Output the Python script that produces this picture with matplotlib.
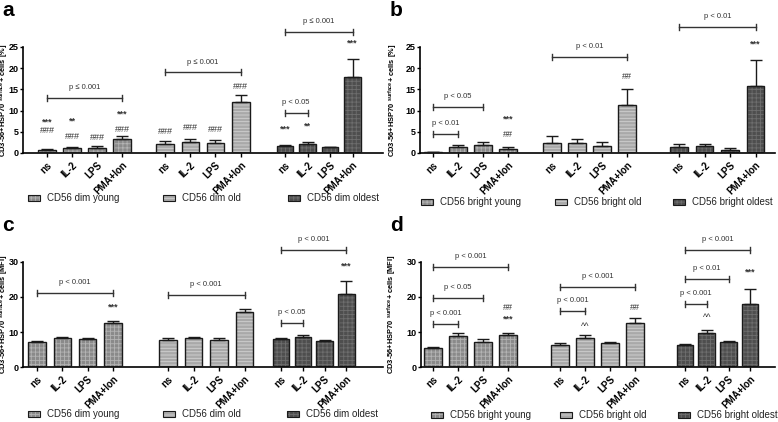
import numpy as np
import matplotlib
matplotlib.use("Agg")
import matplotlib.pyplot as plt
from matplotlib.patches import Rectangle

plt.rcParams['font.family'] = ['Liberation Sans', 'DejaVu Sans']
plt.rcParams['mathtext.fontset'] = 'custom'
plt.rcParams['mathtext.bf'] = 'Liberation Sans:bold'
plt.rcParams['mathtext.rm'] = 'Liberation Sans'
plt.rcParams['hatch.linewidth'] = 0.6

conditions = ['ns', 'IL-2', 'LPS', 'PMA+Ion']

# panel a: CD56 dim, % positive
a_mean = [[0.8, 1.1, 1.25, 3.2], [2.1, 2.7, 2.3, 11.95], [1.65, 2.1, 1.3, 18.0]]
a_err = [[0.2, 0.3, 0.35, 0.8], [0.65, 0.7, 0.7, 1.75], [0.3, 0.4, 0.2, 4.1]]
a_marks = [(0, 0, '###', 5.3), (0, 0, '***', 7.2), (0, 1, '###', 3.9), (0, 1, '**', 7.6),
           (0, 2, '###', 3.7), (0, 3, '###', 5.6), (0, 3, '***', 9.2),
           (1, 0, '###', 5.0), (1, 1, '###', 6.0), (1, 2, '###', 5.6), (1, 3, '###', 15.8),
           (2, 0, '***', 5.7), (2, 1, '**', 6.4), (2, 3, '***', 25.9)]
a_brackets = [(0, 0, 3, 12.9, 'p ≤ 0.001'), (1, 0, 3, 19.0, 'p ≤ 0.001'),
              (2, 0, 1, 9.4, 'p < 0.05'), (2, 0, 3, 28.5, 'p ≤ 0.001')]

# panel b: CD56 bright, % positive
b_mean = [[0.2, 1.4, 1.9, 0.9], [2.4, 2.3, 1.7, 11.3], [1.4, 1.6, 0.8, 15.7]]
b_err = [[0.1, 0.5, 0.8, 0.5], [1.7, 0.9, 1.0, 3.9], [0.65, 0.6, 0.3, 6.3]]
b_marks = [(0, 3, '##', 4.3), (0, 3, '***', 8.0), (1, 3, '##', 18.0), (2, 3, '***', 25.6)]
b_brackets = [(0, 0, 1, 4.4, 'p < 0.01'), (0, 0, 2, 10.8, 'p < 0.05'),
              (1, 0, 3, 22.7, 'p < 0.01'), (2, 0, 3, 29.8, 'p < 0.01')]

# panel c: CD56 dim, MFI
c_mean = [[7.1, 8.2, 7.9, 12.7], [7.8, 8.2, 7.8, 15.6], [7.9, 8.7, 7.5, 20.8]]
c_err = [[0.4, 0.4, 0.4, 0.5], [0.4, 0.5, 0.5, 0.9], [0.3, 0.4, 0.3, 3.8]]
c_marks = [(0, 3, '***', 17.0), (2, 3, '***', 28.8)]
c_brackets = [(0, 0, 3, 21.0, 'p < 0.001'), (1, 0, 3, 20.5, 'p < 0.001'),
              (2, 0, 1, 12.5, 'p < 0.05'), (2, 0, 3, 33.3, 'p < 0.001')]

# panel d: CD56 bright, MFI
d_mean = [[5.4, 8.9, 7.3, 9.3], [6.2, 8.4, 6.9, 12.7], [6.2, 9.7, 7.3, 18.1]]
d_err = [[0.3, 0.8, 0.6, 0.5], [0.7, 0.8, 0.4, 1.3], [0.3, 0.8, 0.3, 4.2]]
d_marks = [(0, 3, '***', 13.8), (0, 3, '##', 16.9), (1, 1, '^^', 11.7),
           (1, 3, '##', 17.1), (2, 1, '^^', 14.1), (2, 3, '***', 27.0)]
d_brackets = [(0, 0, 1, 12.2, 'p < 0.001'), (0, 0, 2, 19.8, 'p < 0.05'),
              (0, 0, 3, 28.6, 'p < 0.001'), (1, 0, 1, 15.9, 'p < 0.001'),
              (1, 0, 3, 22.9, 'p < 0.001'), (2, 0, 1, 18.1, 'p < 0.001'),
              (2, 0, 2, 25.2, 'p < 0.01'), (2, 0, 3, 33.3, 'p < 0.001')]

dim_groups = ['CD56 dim young', 'CD56 dim old', 'CD56 dim oldest']
bright_groups = ['CD56 bright young', 'CD56 bright old', 'CD56 bright oldest']

# bar styles per group: face, hatch colour, hatch
styles = [('#8a8a8a', '#b4b4b4', '++++'),
          ('#a9a9a9', '#d2d2d2', '-----'),
          ('#4e4e4e', '#6e6e6e', '++++')]

W, H = 778, 422
fig = plt.figure(figsize=(W / 100, H / 100), dpi=100)


def make_panel(letter, means, errs, marks, brackets, groups, ylabel, lay):
    left, right, base, ppu, ymax, ytop, ystep, starts, steps, leg = lay
    ox = 0 if left < 388 else 388
    oy = 0 if base < 211 else 215
    top = base - ymax * ppu
    ax = fig.add_axes([left / W, 1 - base / H, (right - left) / W, (base - top) / H])
    ax.set_xlim(0, (right - left) / 25)
    ax.set_ylim(0, ymax)
    pos = [[starts[g] + i * steps[g] for i in range(4)] for g in range(3)]
    allpos, alllab = [], []
    for g in range(3):
        face, hc, hatch = styles[g]
        bw = 0.7 if steps[g] > 0.95 else 0.66
        ax.bar(pos[g], means[g], width=bw, color=face, edgecolor=hc, hatch=hatch, linewidth=0, zorder=2)
        ax.bar(pos[g], means[g], width=bw, fill=False, edgecolor='#1a1a1a', linewidth=1.0, zorder=3)
        ax.errorbar(pos[g], means[g], yerr=[np.zeros(4), errs[g]], fmt='none', ecolor='#1a1a1a',
                    elinewidth=1.0, capsize=4, capthick=1.0, zorder=4)
        allpos += pos[g]
        alllab += conditions
    for g, i, txt, y in marks:
        ax.text(pos[g][i], y, txt, ha='center', va='center', fontsize=6.5, color='#333333',
                fontweight='bold' if txt.startswith('*') else 'normal')
    for g, i1, i2, y, txt in brackets:
        x1, x2 = pos[g][i1], pos[g][i2]
        d = 3.0 / ppu
        ax.plot([x1, x2], [y, y], color='#333333', lw=1.0, clip_on=False)
        ax.plot([x1, x1], [y - d, y + d], color='#333333', lw=1.0, clip_on=False)
        ax.plot([x2, x2], [y - d, y + d], color='#333333', lw=1.0, clip_on=False)
        ax.annotate(txt, ((x1 + x2) / 2, y), xytext=(0, 7.5), textcoords='offset points',
                    ha='center', va='center', fontsize=5.5, color='#333333')
    ax.set_xticks(allpos)
    ax.set_xticklabels(alllab, rotation=45, ha='right', rotation_mode='anchor',
                       fontsize=7, fontweight='bold')
    ax.tick_params(axis='x', length=3, width=1, pad=2)
    ax.set_yticks(np.arange(0, ytop + 1, ystep))
    ax.tick_params(axis='y', length=2.5, width=1, pad=0.5, labelsize=6.5)
    for t in ax.get_yticklabels():
        t.set_fontweight('bold')
    for s in ['top', 'right']:
        ax.spines[s].set_visible(False)
    ax.spines['left'].set_bounds(0, ytop)
    ax.spines['left'].set_linewidth(1.2)
    ax.spines['bottom'].set_linewidth(1.2)
    ax.set_ylabel(ylabel, fontsize=5.4, fontweight='bold')
    ax.yaxis.set_label_coords((ox + 11.5 - left) / (right - left), ytop / 2 / ymax)
    # legend row
    ly = leg[0]
    for g in range(3):
        px = leg[1][g]
        face, hc, hatch = styles[g]
        fig.add_artist(Rectangle((px / W, 1 - (ly + 3) / H), 12 / W, 6 / H, transform=fig.transFigure,
                                 facecolor=face, edgecolor=hc, hatch=hatch, linewidth=0))
        fig.add_artist(Rectangle((px / W, 1 - (ly + 3) / H), 12 / W, 6 / H, transform=fig.transFigure,
                                 fill=False, edgecolor='#1a1a1a', linewidth=0.8))
        fig.text((px + 19) / W, 1 - ly / H, groups[g], fontsize=7, va='center', ha='left', color='#222222')
    fig.text((ox + 2) / W, 1 - (oy + 1) / H, letter, fontsize=15, fontweight='bold', va='top', ha='left')
    return ax


ylab_pct = 'CD3-56+HSP70 $^{\\mathbf{surface}}$+ cells [%]'
ylab_mfi = 'CD3-56+HSP70 $^{\\mathbf{surface}}$+ cells [MFI]'

lay_a = (23, 383, 153, 4.24, 33.7, 25, 5, [0.96, 5.68, 10.48], [1.0, 1.01, 0.9],
         (198, [28, 163, 288]))
lay_b = (420, 775, 153, 4.24, 33.7, 25, 5, [0.52, 5.28, 10.36], [1.0, 1.0, 1.02],
         (202, [421, 555, 673]))
lay_c = (23, 383, 367.3, 3.52, 41.3, 30, 10, [0.56, 5.8, 10.32], [1.01, 1.02, 0.87],
         (414, [28, 163, 287]))
lay_d = (421, 775, 367.3, 3.52, 41.3, 30, 10, [0.48, 5.56, 10.56], [1.0, 1.0, 0.87],
         (415, [431, 560, 678]))

make_panel('a', a_mean, a_err, a_marks, a_brackets, dim_groups, ylab_pct, lay_a)
make_panel('b', b_mean, b_err, b_marks, b_brackets, bright_groups, ylab_pct, lay_b)
make_panel('c', c_mean, c_err, c_marks, c_brackets, dim_groups, ylab_mfi, lay_c)
make_panel('d', d_mean, d_err, d_marks, d_brackets, bright_groups, ylab_mfi, lay_d)

fig.savefig('out.png', dpi=100)
